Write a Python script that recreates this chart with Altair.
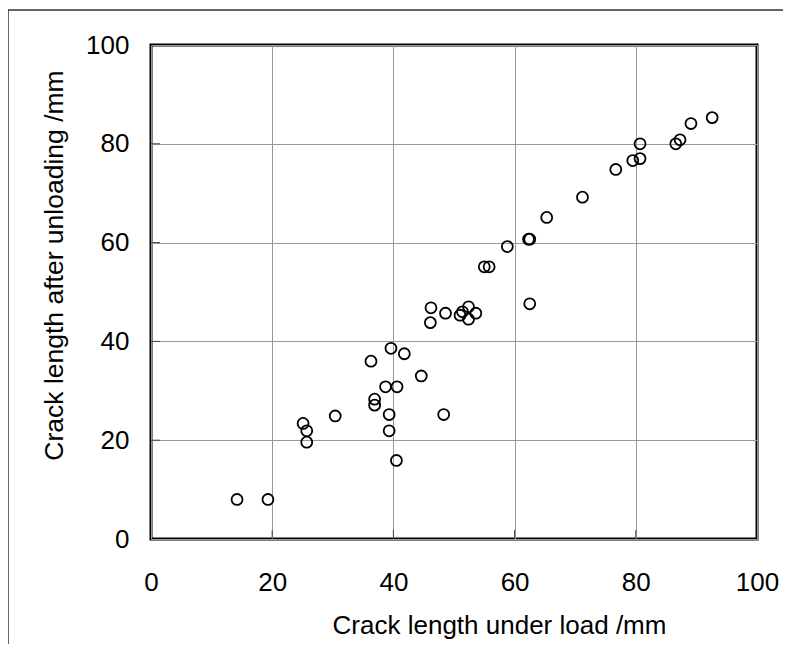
import altair as alt
import pandas as pd

# Crack length under load (mm)
under_load = [14.2, 19.3, 25.1, 25.7, 25.7, 30.4, 36.3, 36.9, 36.9, 38.7, 39.3, 39.3,
              39.6, 40.5, 40.6, 41.8, 44.6, 46.2, 46.1, 48.3, 48.6, 51.0, 51.4, 52.4,
              52.4, 53.6, 55.0, 55.8, 58.8, 62.3, 62.5, 62.5, 65.3, 71.2, 76.7, 79.5,
              80.7, 80.7, 86.6, 87.3, 89.1, 92.6]
# Crack length after unloading (mm)
after_unload = [8.0, 8.0, 23.4, 21.9, 19.6, 24.9, 36.0, 28.3, 27.1, 30.8, 25.2, 21.9,
                38.6, 15.9, 30.8, 37.5, 33.0, 46.8, 43.8, 25.2, 45.7, 45.3, 46.0, 47.0,
                44.5, 45.7, 55.1, 55.1, 59.2, 60.7, 60.7, 47.6, 65.1, 69.2, 74.8, 76.6,
                77.0, 80.0, 80.0, 80.8, 84.1, 85.3]

x_ticks = [0, 20, 40, 60, 80, 100]
y_ticks = [0, 20, 40, 60, 80, 100]

W, H = 606, 494

df = pd.DataFrame({"x": under_load, "y": after_unload})
xt = pd.DataFrame({"v": x_ticks[1:-1]})
yt = pd.DataFrame({"v": y_ticks[1:-1]})

xscale = alt.Scale(domain=[0, 100], nice=False, zero=False)
yscale = alt.Scale(domain=[0, 100], nice=False, zero=False)

one = pd.DataFrame({"a": [0]})
frame_top = alt.Chart(one).mark_rule(color="#333333", strokeWidth=1.5, clip=False).encode(
    x=alt.value(-143), x2=alt.value(W + 300), y=alt.value(-35)
)
frame_left = alt.Chart(one).mark_rule(color="#333333", strokeWidth=1.5, clip=False).encode(
    x=alt.value(-143), y=alt.value(-35), y2=alt.value(H + 300)
)

points = alt.Chart(df).mark_point(
    shape="circle", filled=False, stroke="black", strokeWidth=1.8, size=120, opacity=1
).encode(
    x=alt.X("x:Q", scale=xscale,
            axis=alt.Axis(values=x_ticks, title="Crack length under load /mm",
                          grid=True, gridColor="#999999", gridWidth=1,
                          ticks=False, domain=False, labelPadding=30,
                          labelFontSize=26, titleFontSize=26, titlePadding=17,
                          titleX=348,
                          labelFont="Liberation Sans", titleFont="Liberation Sans",
                          labelColor="black", titleColor="black", titleFontWeight="normal",
                          labelFlush=False)),
    y=alt.Y("y:Q", scale=yscale,
            axis=alt.Axis(values=y_ticks, title="Crack length after unloading /mm",
                          grid=True, gridColor="#999999", gridWidth=1,
                          ticks=False, domain=False, labelPadding=22,
                          labelFontSize=26, titleFontSize=26.5, titlePadding=17,
                          titleY=220,
                          labelFont="Liberation Sans", titleFont="Liberation Sans",
                          labelColor="black", titleColor="black", titleFontWeight="normal",
                          labelFlush=False))
)

xtick_marks = alt.Chart(xt).mark_rule(color="#444444", strokeWidth=1).encode(
    x=alt.X("v:Q", scale=xscale), y=alt.value(H), y2=alt.value(H - 9)
)
ytick_marks = alt.Chart(yt).mark_rule(color="#444444", strokeWidth=1).encode(
    y=alt.Y("v:Q", scale=yscale), x=alt.value(0), x2=alt.value(9)
)

chart = alt.layer(frame_top, frame_left, xtick_marks, ytick_marks, points).properties(
    width=W, height=H,
    autosize=alt.AutoSizeParams(type="none"),
    padding={"left": 143, "top": 37, "right": 26, "bottom": 105},
    background="white"
).configure_view(
    stroke="black", strokeWidth=3
)

chart.save("out.html", embed_options={"renderer": "svg", "actions": False})
